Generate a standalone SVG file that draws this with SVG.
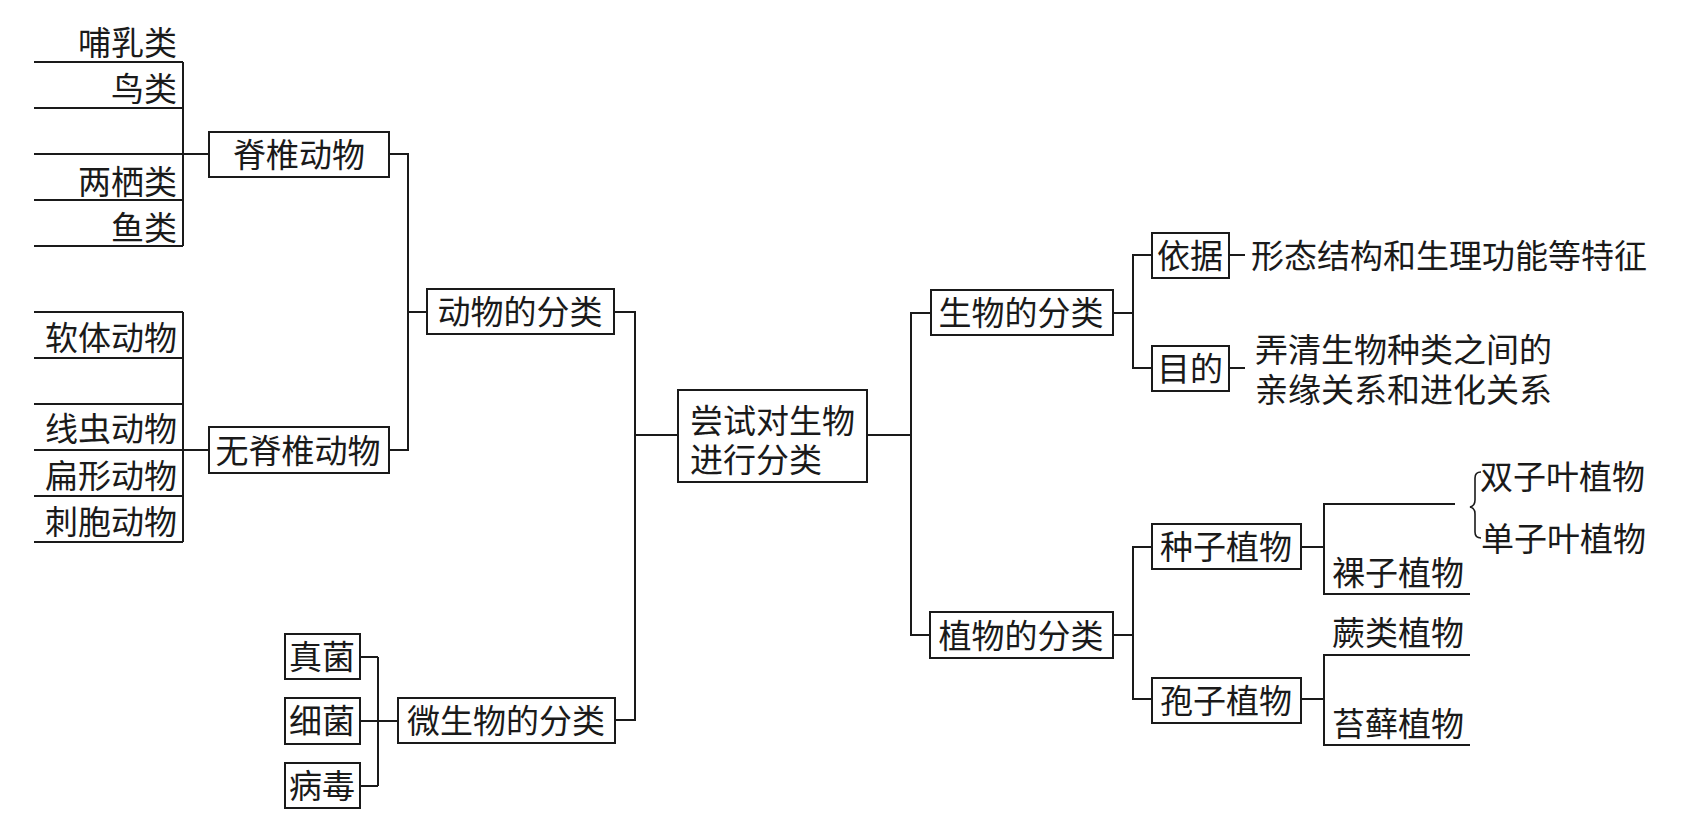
<svg xmlns="http://www.w3.org/2000/svg" width="1691" height="839" viewBox="0 0 1691 839">
<style>
.t{font-family:"Noto Sans CJK SC","Liberation Sans",sans-serif;font-size:33px;fill:#1a1a1a}
.m{text-anchor:middle}
.e{text-anchor:end}
.b{fill:#fff;stroke:#1a1a1a;stroke-width:2}
.c{fill:none;stroke:#1a1a1a;stroke-width:2}
</style>
<rect width="1691" height="839" fill="#fff"/>
<g id="connectors" class="c">
<path d="M34,62H183M34,108H183M34,154H183M34,200H183M34,246H183M183,62V246M183,154H209"/>
<path d="M34,312H183M34,358H183M34,404H183M34,450H183M34,496H183M34,542H183M183,312V542M183,450H209"/>
<path d="M389,154H408V450H389M408,312H427"/>
<path d="M614,312H635V720H615M635,435H678"/>
<path d="M360,657H378M360,721H398M360,786H378M378,657V786"/>
<path d="M867,435H911M931,313H911V635H930"/>
<path d="M1113,313H1133M1152,255H1133V368H1152M1229,255H1245M1229,368H1245"/>
<path d="M1113,635H1133M1152,547H1133V699H1152"/>
<path d="M1301,547H1324M1455,504H1324V594H1470"/>
<path d="M1301,699H1324M1470,655H1324V745H1470"/>
<path d="M1481,472q-6,0 -6,6v22q0,6 -5,7q5,1 5,7v18q0,6 6,6" stroke-width="1.6"/>
</g>
<g id="vertebrates-list">
<text class="t e" x="177" y="55">哺乳类</text>
<text class="t e" x="177" y="101">鸟类</text>
<text class="t e" x="177" y="194">两栖类</text>
<text class="t e" x="177" y="240">鱼类</text>
</g>
<g id="invertebrates-list">
<text class="t e" x="177" y="350">软体动物</text>
<text class="t e" x="177" y="441">线虫动物</text>
<text class="t e" x="177" y="488">扁形动物</text>
<text class="t e" x="177" y="534">刺胞动物</text>
</g>
<g id="n-vertebrate"><rect class="b" x="209" y="132" width="180" height="45"/><text class="t m" x="299" y="167">脊椎动物</text></g>
<g id="n-invertebrate"><rect class="b" x="209" y="427" width="180" height="46"/><text class="t m" x="298" y="463">无脊椎动物</text></g>
<g id="n-animal"><rect class="b" x="427" y="289" width="187" height="45"/><text class="t m" x="520" y="324">动物的分类</text></g>
<g id="n-micro"><rect class="b" x="398" y="698" width="217" height="45"/><text class="t m" x="506" y="733">微生物的分类</text></g>
<g id="n-fungi"><rect class="b" x="285" y="634" width="75" height="45"/><text class="t m" x="322" y="669">真菌</text></g>
<g id="n-bacteria"><rect class="b" x="285" y="698" width="75" height="46"/><text class="t m" x="322" y="733">细菌</text></g>
<g id="n-virus"><rect class="b" x="285" y="763" width="75" height="45"/><text class="t m" x="322" y="798">病毒</text></g>
<g id="n-center"><rect class="b" x="678" y="390" width="189" height="92"/><text class="t"><tspan x="690" y="433">尝试对生物</tspan><tspan x="690" y="472">进行分类</tspan></text></g>
<g id="n-bio"><rect class="b" x="931" y="290" width="182" height="45"/><text class="t m" x="1021" y="325">生物的分类</text></g>
<g id="n-basis"><rect class="b" x="1152" y="233" width="77" height="45"/><text class="t m" x="1190" y="268">依据</text></g>
<g id="n-purpose"><rect class="b" x="1152" y="346" width="77" height="45"/><text class="t m" x="1190" y="381">目的</text></g>
<g id="basis-text"><text class="t" x="1251" y="268">形态结构和生理功能等特征</text></g>
<g id="purpose-text"><text class="t"><tspan x="1255" y="362">弄清生物种类之间的</tspan><tspan x="1255" y="402">亲缘关系和进化关系</tspan></text></g>
<g id="n-plant"><rect class="b" x="930" y="612" width="183" height="46"/><text class="t m" x="1021" y="648">植物的分类</text></g>
<g id="n-seed"><rect class="b" x="1152" y="524" width="149" height="45"/><text class="t m" x="1226" y="559">种子植物</text></g>
<g id="n-spore"><rect class="b" x="1152" y="678" width="149" height="45"/><text class="t m" x="1226" y="713">孢子植物</text></g>
<g id="seed-list">
<text class="t" x="1480" y="489">双子叶植物</text>
<text class="t" x="1481" y="551">单子叶植物</text>
<text class="t" x="1332" y="585">裸子植物</text>
</g>
<g id="spore-list">
<text class="t" x="1332" y="645">蕨类植物</text>
<text class="t" x="1332" y="736">苔藓植物</text>
</g>
</svg>
